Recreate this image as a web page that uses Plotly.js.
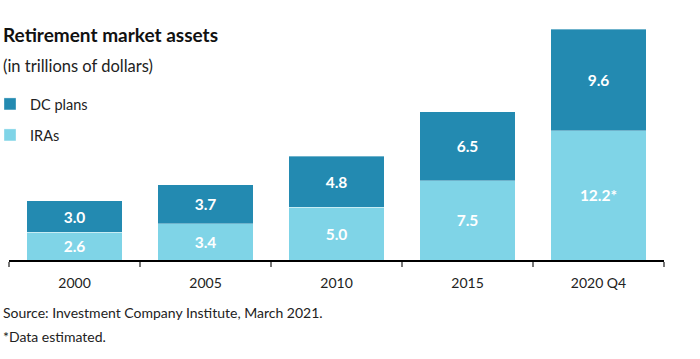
<!DOCTYPE html>
<html>
<head>
<meta charset="utf-8">
<script src="https://cdn.plot.ly/plotly-3.0.1.min.js"></script>
<style>html,body{margin:0;padding:0;background:#fff;}#chart{width:700px;height:359px;}</style>
</head>
<body>
<div id="chart"></div>
<script>
const categories = ["2000", "2005", "2010", "2015", "2020 Q4"];
const iraValues = [2.6, 3.4, 5.0, 7.5, 12.2];
const dcValues = [3.0, 3.7, 4.8, 6.5, 9.6];
const iraNotes = ["", "", "", "", "*"];
const dcNotes = ["", "", "", "", ""];

const FONT = "'Source Sans Pro', Lato, 'Noto Sans', sans-serif";
const fmt = (vals, notes) => vals.map((v, i) => v.toFixed(1) + notes[i]);

const traces = [
  {
    type: "bar", name: "IRAs", x: categories, y: iraValues,
    text: fmt(iraValues, iraNotes), textposition: "inside", insidetextanchor: "middle",
    textfont: {family: FONT, size: 15.5, color: "#ffffff", weight: "bold"},
    marker: {color: "#7fd4e7", line: {color: "rgba(255,255,255,0.35)", width: 1}},
    hoverinfo: "none", legend: "legend2"
  },
  {
    type: "bar", name: "DC plans", x: categories, y: dcValues,
    text: fmt(dcValues, dcNotes), textposition: "inside", insidetextanchor: "middle",
    textfont: {family: FONT, size: 15.5, color: "#ffffff", weight: "bold"},
    marker: {color: "#238ab1", line: {color: "rgba(255,255,255,0.35)", width: 1}},
    hoverinfo: "none", legend: "legend"
  }
];

const M = {l: 9, r: 36, t: 27, b: 99};
const plotW = 700 - M.l - M.r;

function legendAt(topPix) {
  return {
    x: (-10 - M.l) / plotW, xref: "paper", y: 1 - topPix/359, yref: "container", yanchor: "top",
    xanchor: "left", font: {family: FONT, size: 14.5, color: "#222"},
    itemclick: false, bgcolor: "rgba(0,0,0,0)"
  };
}

const layout = {
  width: 700, height: 359,
  margin: {l: M.l, r: M.r, t: M.t, b: M.b, autoexpand: false},
  barmode: "stack", bargap: 0.27,
  paper_bgcolor: "#fff", plot_bgcolor: "#fff",
  font: {family: FONT, size: 15, color: "#222"},
  showlegend: true,
  legend: legendAt(88),
  legend2: legendAt(119),
  xaxis: {
    type: "category", showline: true, linecolor: "#000", linewidth: 1.5,
    ticks: "outside", tickson: "boundaries", ticklen: 5, tickcolor: "#777", tickwidth: 1.5,
    ticklabelstandoff: 10,
    tickfont: {family: FONT, size: 14, color: "#222"}, showgrid: false, fixedrange: true
  },
  yaxis: {range: [0, 22], visible: false, showgrid: false, fixedrange: true},
  annotations: [
    {text: "<b>Retirement market assets</b>", xref: "paper", yref: "paper", x: 0, y: 1, xanchor: "left", yanchor: "middle", showarrow: false,
     font: {family: FONT, size: 19, color: "#111"}},
    {text: "(in trillions of dollars)", xref: "paper", yref: "paper", x: 0, y: 1, xanchor: "left", yanchor: "middle", showarrow: false,
     font: {family: FONT, size: 16.5, color: "#222"}},
    {text: "Source: Investment Company Institute, March 2021.", xref: "paper", yref: "paper", x: 0, y: 0, xanchor: "left", yanchor: "middle", showarrow: false,
     font: {family: FONT, size: 14, color: "#222"}},
    {text: "*Data estimated.", xref: "paper", yref: "paper", x: 0, y: 0, xanchor: "left", yanchor: "middle", showarrow: false,
     font: {family: FONT, size: 14, color: "#222"}}
  ]
};

// Position text annotations in pixel space via paper fractions
const plotH = 359 - M.t - M.b;
function px(yPix){ return (359 - M.b - yPix) / plotH; }
function pxX(xPix){ return (xPix - M.l) / plotW; }
const annY = [34, 66, 312, 336];
layout.annotations.forEach((a, i) => { a.y = px(annY[i]); a.x = pxX(1); });

Plotly.newPlot("chart", traces, layout, {displayModeBar: false, staticPlot: true});
</script>
</body>
</html>
